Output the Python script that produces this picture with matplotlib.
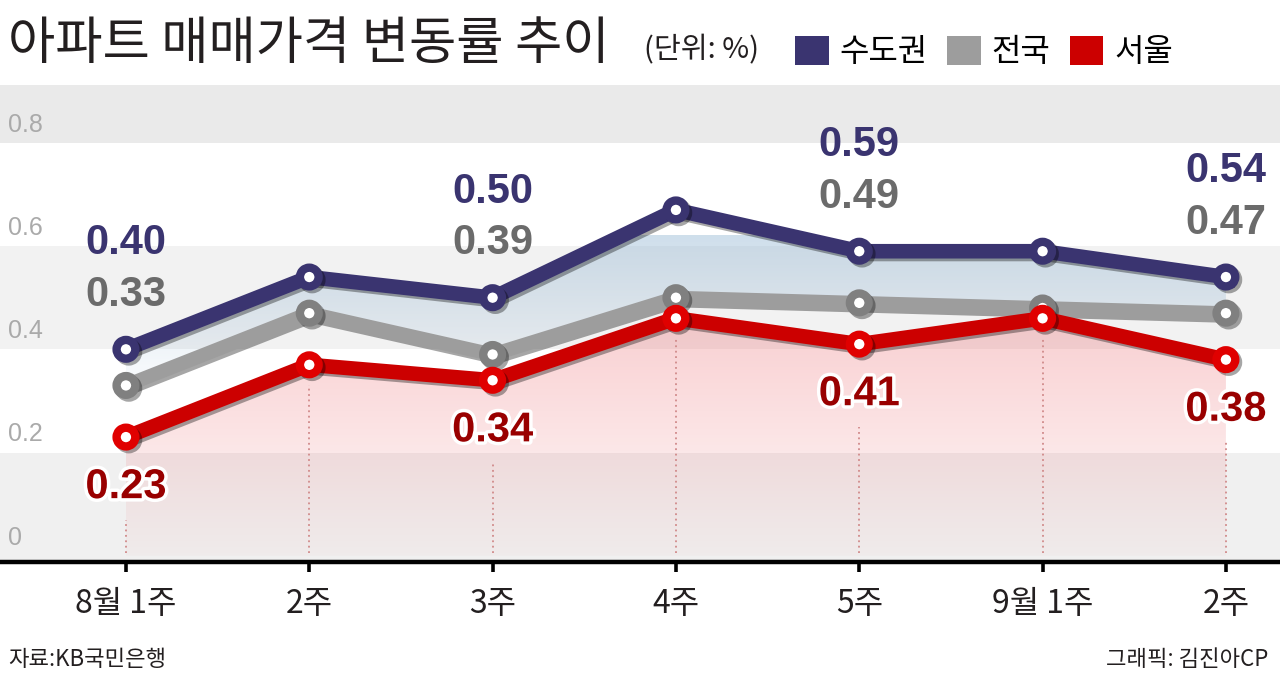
import numpy as np
import matplotlib.pyplot as plt
import matplotlib.patheffects as pe
from matplotlib.patches import Patch, PathPatch
from matplotlib.colors import LinearSegmentedColormap

plt.rcParams['font.family'] = ['Noto Sans CJK KR', 'DejaVu Sans']
NUM_FONT = ['Liberation Sans', 'DejaVu Sans']

# data
weeks = ['8월 1주', '2주', '3주', '4주', '5주', '9월 1주', '2주']
metro = [0.40, 0.54, 0.50, 0.67, 0.59, 0.59, 0.54]     # 수도권
nation = [0.33, 0.47, 0.39, 0.50, 0.49, 0.48, 0.47]    # 전국
seoul = [0.23, 0.37, 0.34, 0.46, 0.41, 0.46, 0.38]     # 서울
labeled = [0, 2, 4, 6]
y_ticks = [0, 0.2, 0.4, 0.6, 0.8]
names = ['수도권', '전국', '서울']

c_metro = '#3a3470'
c_nation = '#9d9d9d'
c_seoul = '#cc0000'

x = np.arange(len(weeks))

fig = plt.figure(figsize=(12.8, 6.79), dpi=100)
ax = fig.add_axes([0, 1 - 562 / 679, 1, (562 - 85) / 679])
xlim = (-0.687, 6.295)
ylim = (-0.012, 0.912)

# background bands
for lo, hi, col in [(ylim[0], 0.2, '#f0f0f0'), (0.4, 0.6, '#f2f2f2'), (0.8, ylim[1], '#eaeaea')]:
    ax.axhspan(lo, hi, color=col, lw=0, zorder=0)

for v in y_ticks:
    ax.text(-0.644, v + 0.012, f'{v:g}', color='#aaaaaa', fontsize=18,
            family=NUM_FONT, va='bottom', ha='left', zorder=1)


def gradient_fill(y_top, y_bot, c_lo, c_hi, g_lo, g_hi):
    poly = ax.fill_between(x, y_top, y_bot, color='none', lw=0)
    clip = PathPatch(poly.get_paths()[0], transform=ax.transData,
                     facecolor='none', edgecolor='none')
    ax.add_patch(clip)
    cmap = LinearSegmentedColormap.from_list('g', [c_lo, c_hi])
    grad = np.linspace(0, 1, 256).reshape(-1, 1)
    im = ax.imshow(grad, cmap=cmap, extent=[x[0], x[-1], g_lo, g_hi],
                   origin='lower', aspect='auto', zorder=1.5)
    im.set_clip_path(clip)


gradient_fill(metro, nation, (0.55, 0.70, 0.82, 0.0), (0.55, 0.70, 0.82, 0.42), 0.3, 0.62)
gradient_fill(seoul, np.zeros(len(x)), (0.93, 0.45, 0.47, 0.04), (0.93, 0.45, 0.47, 0.34), 0.0, 0.46)

# dotted guides
for i in x:
    top = seoul[i] - (0.16 if i in labeled else 0.04)
    ax.vlines(i, 0.005, top, colors='#d08a8a', linestyles=(0, (1, 2)), lw=1.3, zorder=1.6)

shadow = [pe.SimpleLineShadow(offset=(2, -2), shadow_color='k', alpha=0.35), pe.Normal()]
ax.plot(x, nation, color=c_nation, lw=10, marker='o', ms=13.5, mew=6,
        mfc='white', mec='#808080', zorder=3, path_effects=shadow)
ax.plot(x, metro, color=c_metro, lw=10.5, marker='o', ms=13.5, mew=6,
        mfc='white', mec=c_metro, zorder=4, path_effects=shadow)
ax.plot(x, seoul, color=c_seoul, lw=10.5, marker='o', ms=13.5, mew=6,
        mfc='white', mec='#e00000', zorder=5, path_effects=shadow)

halo = [pe.withStroke(linewidth=5, foreground='white')]
for i in labeled:
    ax.text(i, metro[i] + 0.205, f'{metro[i]:.2f}', color=c_metro, fontsize=30,
            fontweight='bold', family=NUM_FONT, ha='center', va='center', zorder=6)
    ax.text(i, metro[i] + 0.105, f'{nation[i]:.2f}', color='#6b6b6b', fontsize=30,
            fontweight='bold', family=NUM_FONT, ha='center', va='center', zorder=6)
    ax.text(i, seoul[i] - 0.097, f'{seoul[i]:.2f}', color='#990000', fontsize=30,
            fontweight='bold', family=NUM_FONT, ha='center', va='center', zorder=6,
            path_effects=halo)

ax.set_xlim(*xlim)
ax.set_ylim(*ylim)
ax.set_xticks(x)
ax.set_xticklabels(weeks, fontsize=23, color='#231f20')
ax.set_yticks([])
for s in ['top', 'left', 'right']:
    ax.spines[s].set_visible(False)
ax.spines['bottom'].set_linewidth(3.2)
ax.tick_params(axis='x', length=7, width=2.6, color='black', pad=12)

# title / legend / notes
fig.text(8 / 1280, 1 - 44 / 679, '아파트 매매가격 변동률 추이', fontsize=37,
         fontweight='medium', color='#231f20', va='center', ha='left')
fig.text(644 / 1280, 1 - 50 / 679, '(단위: %)', fontsize=21, color='#231f20',
         va='center', ha='left')
handles = [Patch(facecolor=c_metro, edgecolor='none'),
           Patch(facecolor='#9d9d9d', edgecolor='none'),
           Patch(facecolor=c_seoul, edgecolor='none')]
fig.legend(handles, names, loc='center left', bbox_to_anchor=(795 / 1280, 1 - 52 / 679),
           ncol=3, frameon=False, fontsize=23, handlelength=1.05, handleheight=1.05,
           handletextpad=0.35, columnspacing=0.6, borderpad=0, borderaxespad=0)
fig.text(8 / 1280, 1 - 660 / 679, '자료:KB국민은행', fontsize=16, color='#231f20',
         va='center', ha='left')
fig.text(1268 / 1280, 1 - 660 / 679, '그래픽: 김진아CP', fontsize=16, color='#231f20',
         va='center', ha='right')

fig.savefig('out.png', dpi=100)
